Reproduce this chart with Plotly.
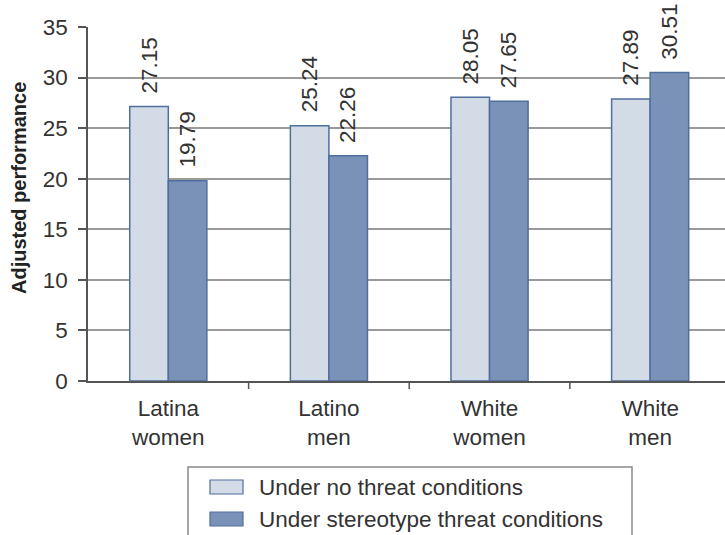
import plotly.graph_objects as go

# Groups and mean adjusted performance scores
groups = ["Latina<br>women", "Latino<br>men", "White<br>women", "White<br>men"]
no_threat = [27.15, 25.24, 28.05, 27.89]
stereotype_threat = [19.79, 22.26, 27.65, 30.51]
series_names = ["Under no threat conditions", "Under stereotype threat conditions"]
y_ticks = [0, 5, 10, 15, 20, 25, 30, 35]

FONT = "Liberation Sans, Arial, Helvetica, sans-serif"
LIGHT = "#d3dbe7"
DARK = "#7a92b8"
EDGE = "#4f6f9f"
TEXT = "#333333"

W, H = 725, 535
ML, MR, MT, MB = 88, 0, 27, 154
PW, PH = W - ML - MR, H - MT - MB


def px_x(px):
    return (px - ML) / PW


def px_y(py):
    return (H - MB - py) / PH


fig = go.Figure()
BAR_W = 0.24
for name, vals, color, shift in [
    (series_names[0], no_threat, LIGHT, -BAR_W / 2),
    (series_names[1], stereotype_threat, DARK, BAR_W / 2),
]:
    fig.add_trace(go.Bar(
        x=list(range(len(groups))), y=vals, name=name,
        marker=dict(color=color, line=dict(color=EDGE, width=1.5)),
        showlegend=False,
    ))
    for i, v in enumerate(vals):
        fig.add_annotation(
            x=i + shift, y=v, xref="x", yref="y",
            text=f"{v:.2f}", textangle=-90, showarrow=False,
            xanchor="center", yanchor="bottom", yshift=11,
            font=dict(family=FONT, size=22.5, color=TEXT),
        )

# Legend box drawn in page pixels
fig.add_shape(type="rect", xref="paper", yref="paper",
              x0=px_x(188), x1=px_x(632), y0=px_y(467), y1=px_y(545),
              line=dict(color="#8a8a8a", width=1.5), fillcolor="white")
for row_y, name, color in [(487, series_names[0], LIGHT), (519, series_names[1], DARK)]:
    fig.add_shape(type="rect", xref="paper", yref="paper",
                  x0=px_x(210), x1=px_x(243), y0=px_y(row_y - 7), y1=px_y(row_y + 7),
                  line=dict(color=EDGE, width=1.2), fillcolor=color)
    fig.add_annotation(x=px_x(257), y=px_y(row_y), xref="paper", yref="paper",
                       text=name, showarrow=False, xanchor="left", yanchor="middle",
                       font=dict(family=FONT, size=22.5, color=TEXT))

# Y-axis title
fig.add_annotation(x=px_x(19), y=px_y(188), xref="paper", yref="paper",
                   text="<b>Adjusted performance</b>", textangle=-90, showarrow=False,
                   xanchor="center", yanchor="middle",
                   font=dict(family=FONT, size=20, color="#222222"))

fig.update_layout(
    width=W, height=H,
    margin=dict(l=ML, r=MR, t=MT, b=MB, autoexpand=False),
    plot_bgcolor="white", paper_bgcolor="white",
    barmode="group", bargap=0.52, bargroupgap=0,
    font=dict(family=FONT, size=22, color=TEXT),
    xaxis=dict(
        tickmode="array", tickvals=list(range(len(groups))), ticktext=groups,
        range=[-0.5, 3.466], showgrid=False, zeroline=False,
        showline=True, linecolor="#555555", linewidth=1.5,
        ticks="", tickfont=dict(size=22.5, color=TEXT), ticklabelstandoff=6,
    ),
    yaxis=dict(
        range=[0, 35], tickvals=y_ticks, showgrid=True,
        gridcolor="#9a9a9a", gridwidth=1.5, zeroline=False,
        showline=True, linecolor="#555555", linewidth=1.5,
        ticks="outside", ticklen=8, tickwidth=1.5, tickcolor="#555555",
        tickfont=dict(size=22.5, color=TEXT), ticklabelstandoff=6,
    ),
)

# Tick marks on the category boundaries
for b in [0.5, 1.5, 2.5]:
    fig.add_shape(type="line", xref="x", yref="paper", x0=b, x1=b,
                  y0=0, y1=-8 / PH, line=dict(color="#555555", width=1.5))

fig.write_html("out.html")
